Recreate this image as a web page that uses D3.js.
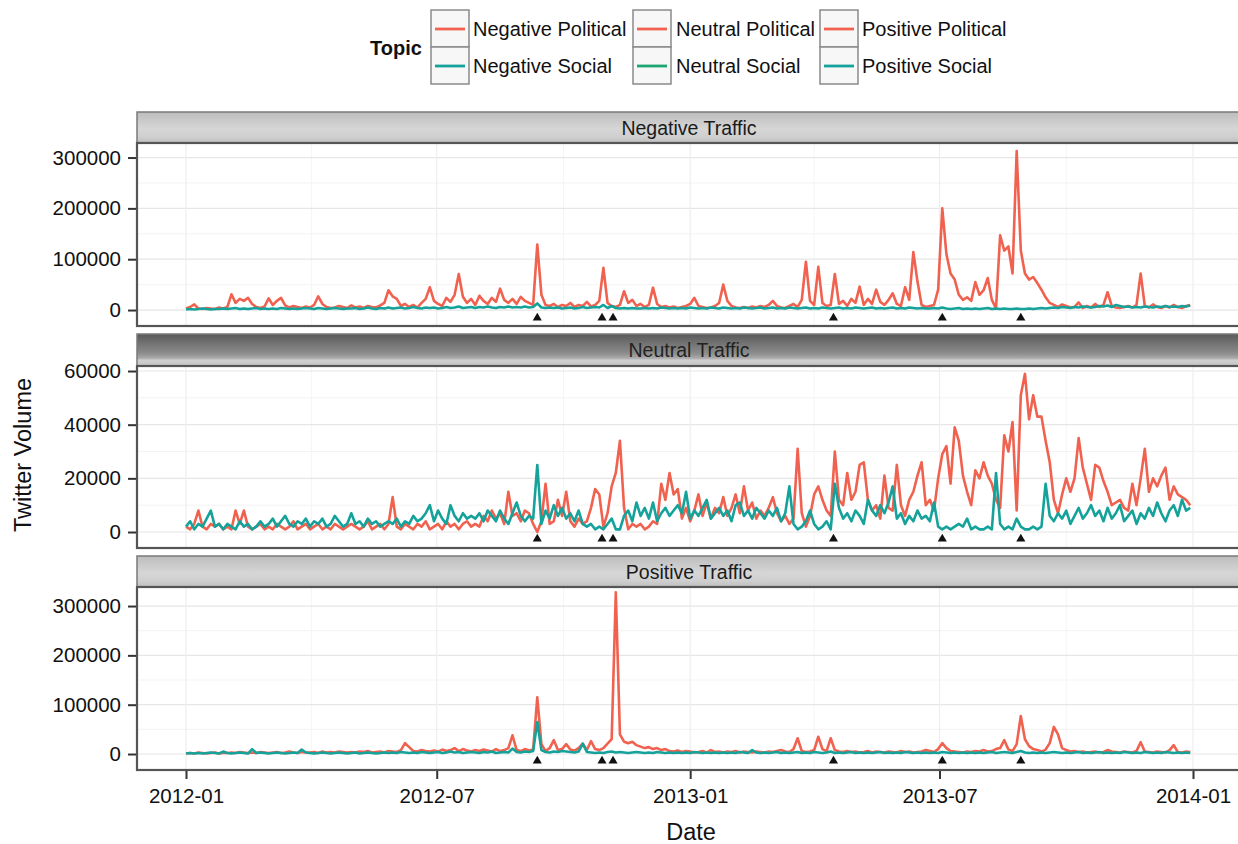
<!DOCTYPE html>
<html><head><meta charset="utf-8">
<script src="https://cdn.jsdelivr.net/npm/d3@7"></script>
<style>
body{margin:0;background:#fff}
svg{display:block}
text{font-family:"Liberation Sans",Arial,Helvetica,sans-serif}
</style>
</head><body>
<svg id="chart" width="1238" height="844"></svg>
<script>
// ---------- DATA (values in thousands of tweets, one value every 3 days from 2012-01-01) ----------
const seriesStart = "2012-01-01";
const seriesStepDays = 3;
const panelTitles = ["Negative Traffic", "Neutral Traffic", "Positive Traffic"];
const legendTopics = ["Negative Political", "Neutral Political", "Positive Political",
                      "Negative Social", "Neutral Social", "Positive Social"];
const xTickDates = ["2012-01-01", "2012-07-01", "2013-01-01", "2013-07-01", "2014-01-01"];
const xTickLabels = ["2012-01", "2012-07", "2013-01", "2013-07", "2014-01"];
const xMinorDates = ["2012-04-01", "2012-10-01", "2013-04-01", "2013-10-01"];
const eventDates = ["2012-09-12", "2012-10-29", "2012-11-06", "2013-04-15", "2013-07-03", "2013-08-29"];
const yTicksBig = [0, 100, 200, 300];
const yTickLabelsBig = ["0", "100000", "200000", "300000"];
const yTicksNeutral = [0, 20, 40, 60];
const yTickLabelsNeutral = ["0", "20000", "40000", "60000"];

const negativePolitical = [
 3,6,11,3,2,4,3,2,5,3,
 6,31,14,22,18,24,12,6,4,7,
 23,10,18,24,9,5,8,6,4,7,
 5,10,27,12,6,4,5,8,6,4,
 9,5,7,4,8,6,5,9,14,39,
 27,22,8,12,6,10,5,14,22,45,
 18,12,8,24,16,30,71,26,14,22,
 10,28,18,12,24,16,42,20,14,22,
 12,26,18,14,10,129,30,10,8,12,
 6,10,8,14,6,10,8,16,7,10,
 18,83,14,8,6,10,37,14,20,8,
 12,6,10,44,12,6,8,5,7,4,
 6,8,12,24,8,6,4,5,8,14,
 50,18,8,5,4,6,4,7,5,8,
 6,10,18,8,5,4,8,12,6,20,
 95,18,10,85,14,8,10,71,12,18,
 8,22,14,46,10,22,12,40,16,10,
 20,33,12,8,45,20,114,56,10,6,
 8,10,40,200,110,72,60,30,20,25,
 18,55,30,39,63,20,3,147,117,125,
 72,313,117,72,60,65,53,40,25,14,
 10,6,11,8,5,6,15,4,8,5,
 12,6,10,35,8,5,4,6,8,5,
 10,72,8,5,11,6,4,8,5,10,
 6,4,8,10];

const negativeSocial = [
 1,2,1,2,3,2,1,2,2,3,
 2,3,4,2,3,2,3,4,2,3,
 2,3,2,4,3,2,3,2,3,4,
 3,2,4,3,2,3,4,3,2,3,
 3,4,2,3,5,3,2,4,3,5,
 3,4,5,3,4,6,4,3,5,4,
 5,3,4,6,4,5,7,4,5,6,
 4,6,5,7,5,4,6,5,7,5,
 6,5,7,5,6,13,5,4,5,4,
 5,3,4,5,3,4,6,4,5,6,
 5,10,4,8,4,3,4,3,4,3,
 3,4,3,4,3,5,4,3,4,3,
 4,3,5,4,3,4,3,5,4,3,
 5,4,3,4,3,5,4,3,4,5,
 3,4,5,3,4,3,5,4,3,4,
 5,3,4,3,5,4,3,4,5,3,
 4,3,5,4,3,4,5,3,4,3,
 4,5,3,4,3,5,4,3,4,3,
 3,4,3,5,3,2,3,4,2,3,
 2,3,2,3,4,2,3,2,3,2,
 2,3,2,2,3,2,3,4,3,4,
 5,4,6,5,4,6,5,7,6,5,
 6,8,7,9,6,10,8,6,7,5,
 6,5,7,6,5,7,6,8,6,7,
 6,8,7,9];

const neutralPolitical = [
 2,1,3,8,2,1,3,2,3,1,
 2,1,8,3,8,2,1,2,3,1,
 2,1,3,2,1,2,4,1,2,3,
 1,2,3,1,2,1,3,2,1,2,
 3,2,1,2,4,1,2,3,1,3,
 13,2,1,3,2,1,3,2,4,1,
 2,3,1,4,2,3,1,3,4,2,
 3,2,6,4,8,5,7,3,15,6,
 7,4,8,7,3,0,4,18,3,4,
 12,6,15,4,2,5,3,4,9,16,
 14,2,7,17,22,34,9,1,3,2,
 3,1,2,4,3,18,12,22,14,16,
 5,9,4,8,14,6,11,5,9,7,
 13,6,9,14,7,17,8,11,5,8,
 6,9,13,7,4,6,3,5,31,7,
 2,6,14,17,12,8,6,30,12,10,
 22,12,15,25,26,12,8,10,5,21,
 9,8,25,10,6,12,15,21,26,10,
 12,8,20,29,32,18,39,34,21,15,
 10,23,20,26,21,18,12,9,36,30,
 41,8,51,59,42,51,43,43,34,26,
 12,7,14,20,15,20,35,24,18,12,
 25,24,19,15,10,11,12,9,8,18,
 10,20,31,15,20,17,21,24,12,17,
 14,13,12,10];

const neutralSocial = [
 2,4,1,3,2,5,8,2,3,1,
 3,2,1,4,2,3,1,2,4,2,
 3,5,2,4,6,3,2,4,3,5,
 2,4,3,5,2,3,6,4,2,3,
 7,3,4,2,5,3,4,2,3,4,
 3,5,2,4,3,6,4,5,7,10,
 4,8,5,3,10,6,4,7,5,6,
 5,7,4,8,6,4,8,5,3,7,
 11,6,4,6,5,25,3,8,5,10,
 6,9,5,7,4,8,3,2,3,1,
 2,1,3,5,1,1,6,8,4,11,
 6,9,5,11,4,7,9,6,8,10,
 7,15,5,8,6,9,12,5,7,9,
 6,8,4,10,11,6,8,5,9,7,
 5,8,6,9,4,7,17,3,1,2,
 4,8,3,1,2,4,1,18,9,5,
 7,4,8,6,3,12,8,6,10,7,
 11,17,5,7,3,6,4,8,5,6,
 4,11,2,1,2,1,2,3,2,5,
 1,2,1,1,2,1,22,3,1,2,
 1,5,2,1,1,2,1,2,18,6,
 4,7,5,8,3,6,9,5,7,10,
 6,8,4,9,5,7,10,4,6,8,
 3,7,5,9,6,11,7,4,8,10,
 6,12,8,9];

const positivePolitical = [
 1,2,1,3,2,1,2,3,1,2,
 2,3,2,4,3,2,3,2,4,3,
 2,3,4,2,3,5,3,2,4,3,
 3,4,2,5,3,4,3,5,4,3,
 4,3,5,4,6,3,4,5,3,6,
 5,4,8,22,14,6,5,8,6,5,
 7,5,9,6,8,12,6,10,7,5,
 8,6,9,7,5,10,6,8,12,38,
 8,6,10,7,9,115,20,6,12,28,
 8,10,20,9,7,12,21,8,26,10,
 8,12,21,30,328,40,25,22,25,18,
 15,12,14,10,12,8,10,6,5,7,
 4,6,5,3,4,6,3,8,4,5,
 3,5,4,6,3,5,4,3,5,4,
 3,5,4,6,8,5,4,10,32,6,
 4,5,8,35,10,6,32,8,5,4,
 6,4,5,3,4,6,3,5,4,3,
 5,4,3,6,4,5,3,4,5,8,
 6,4,10,22,12,6,5,4,3,5,
 4,6,5,8,5,6,10,12,28,9,
 6,20,77,30,16,10,8,5,9,22,
 55,40,12,8,5,6,4,5,3,4,
 5,3,4,8,5,4,3,5,4,3,
 6,24,5,4,3,5,4,3,8,18,
 4,3,5,4];

const positiveSocial = [
 1,2,1,2,1,2,3,2,1,5,
 2,1,2,3,2,1,10,2,3,2,
 1,2,3,2,1,2,3,2,9,3,
 2,1,2,3,2,1,2,3,2,1,
 2,3,1,2,3,2,1,2,3,2,
 3,2,4,3,2,3,2,4,3,2,
 3,4,2,3,5,3,4,2,3,4,
 3,2,4,3,5,2,3,4,3,11,
 4,3,5,4,6,65,8,4,3,5,
 4,6,5,4,3,5,21,4,3,2,
 3,2,4,5,3,4,3,2,3,4,
 3,2,3,2,4,3,2,3,2,3,
 2,3,2,4,3,2,3,2,3,2,
 3,2,3,2,4,3,2,8,3,2,
 3,2,3,4,2,3,2,3,4,2,
 3,2,4,3,2,3,5,2,3,2,
 3,4,2,3,2,3,2,3,4,2,
 3,2,3,2,4,3,2,3,2,3,
 2,3,2,4,3,2,3,2,3,2,
 3,2,3,2,3,4,2,3,4,3,
 2,4,6,3,2,3,2,3,2,3,
 4,3,2,3,2,3,4,2,3,2,
 3,4,2,3,2,3,2,4,3,2,
 3,2,4,3,2,3,2,4,3,2,
 3,2,3,2];

// ---------- STYLE ----------
const RED = "#F0624F", TEAL = "#15A29A", GREEN_SOCIAL = "#1BA673";
const legendColors = [RED, RED, RED, TEAL, GREEN_SOCIAL, TEAL];

const parse = d3.utcParse("%Y-%m-%d");
const start = parse(seriesStart);
const dates = d3.range(negativePolitical.length).map(i => d3.utcDay.offset(start, i * seriesStepDays));

const svg = d3.select("#chart");
const defs = svg.append("defs");

function grad(id, stops) {
  const g = defs.append("linearGradient").attr("id", id).attr("x1", 0).attr("y1", 0).attr("x2", 0).attr("y2", 1);
  stops.forEach(s => g.append("stop").attr("offset", s[0]).attr("stop-color", s[1]));
}
grad("stripLight", [["0%", "#bdbdbd"], ["55%", "#d6d6d6"], ["80%", "#cfcfcf"], ["100%", "#bebebe"]]);
grad("stripDark", [["0%", "#5a5a5a"], ["60%", "#8c8c8c"], ["75%", "#a9a9a9"], ["82%", "#d0d0d0"], ["100%", "#c4c4c4"]]);

const x = d3.scaleUtc().domain([parse("2012-01-01"), parse("2014-01-01")]).range([186, 1193]);
const panelLeft = 137, panelRight = 1243;

const panels = [
  { title: panelTitles[0], pol: negativePolitical, soc: negativeSocial, stripTop: 112, top: 143, bottom: 326,
    domain: [-31.4, 328.6], ticks: yTicksBig, labels: yTickLabelsBig, minor: [50, 150, 250], marker: -15.5, strip: "stripLight", textColor: "#1a1a1a" },
  { title: panelTitles[1], pol: neutralPolitical, soc: neutralSocial, stripTop: 334, top: 366, bottom: 548,
    domain: [-5.96, 61.87], ticks: yTicksNeutral, labels: yTickLabelsNeutral, minor: [10, 30, 50], marker: -2.6, strip: "stripDark", textColor: "#222" },
  { title: panelTitles[2], pol: positivePolitical, soc: positiveSocial, stripTop: 556, top: 587, bottom: 770,
    domain: [-32.4, 338.6], ticks: yTicksBig, labels: yTickLabelsBig, minor: [50, 150, 250], marker: -14, strip: "stripLight", textColor: "#1a1a1a" }
];

panels.forEach((p, k) => {
  const y = d3.scaleLinear().domain(p.domain).range([p.bottom, p.top]);
  const g = svg.append("g");

  // strip
  g.append("rect").attr("x", panelLeft).attr("y", p.stripTop).attr("width", panelRight - panelLeft)
    .attr("height", p.top - p.stripTop).attr("fill", `url(#${p.strip})`).attr("stroke", "#7a7a7a").attr("stroke-width", 1.5);
  g.append("text").attr("x", (panelLeft + panelRight) / 2 - 1).attr("y", (p.stripTop + p.top) / 2 + 7)
    .attr("text-anchor", "middle").attr("font-size", 19.5).attr("fill", p.textColor).text(p.title);

  // plot background
  g.append("rect").attr("x", panelLeft).attr("y", p.top).attr("width", panelRight - panelLeft)
    .attr("height", p.bottom - p.top).attr("fill", "#fff");

  // grid
  g.selectAll(".gminor").data(p.minor).join("line")
    .attr("x1", panelLeft).attr("x2", panelRight).attr("y1", d => y(d)).attr("y2", d => y(d))
    .attr("stroke", "#f3f3f3").attr("stroke-width", 1);
  g.selectAll(".gvminor").data(xMinorDates).join("line")
    .attr("x1", d => x(parse(d))).attr("x2", d => x(parse(d))).attr("y1", p.top).attr("y2", p.bottom)
    .attr("stroke", "#f5f5f5").attr("stroke-width", 1);
  g.selectAll(".gmajor").data(p.ticks).join("line")
    .attr("x1", panelLeft).attr("x2", panelRight).attr("y1", d => y(d)).attr("y2", d => y(d))
    .attr("stroke", "#e6e6e6").attr("stroke-width", 1.2);
  g.selectAll(".gvmajor").data(xTickDates).join("line")
    .attr("x1", d => x(parse(d))).attr("x2", d => x(parse(d))).attr("y1", p.top).attr("y2", p.bottom)
    .attr("stroke", "#eeeeee").attr("stroke-width", 1.2);

  // clip
  const cid = "clip" + k;
  defs.append("clipPath").attr("id", cid).append("rect")
    .attr("x", panelLeft).attr("y", p.top).attr("width", panelRight - panelLeft).attr("height", p.bottom - p.top);

  const line = d3.line().x((d, i) => x(dates[i])).y(d => y(d)).curve(d3.curveLinear);
  const lg = g.append("g").attr("clip-path", `url(#${cid})`);
  lg.append("path").datum(p.pol).attr("d", line).attr("fill", "none").attr("stroke", RED)
    .attr("stroke-width", 2.6).attr("stroke-linejoin", "round");
  lg.append("path").datum(p.soc).attr("d", line).attr("fill", "none").attr("stroke", TEAL)
    .attr("stroke-width", 2.6).attr("stroke-linejoin", "round");

  // event markers
  lg.selectAll(".ev").data(eventDates).join("path")
    .attr("d", d3.symbol(d3.symbolTriangle).size(36))
    .attr("transform", d => `translate(${x(parse(d))},${y(p.marker)})`)
    .attr("fill", "#111");

  // panel border
  g.append("rect").attr("x", panelLeft).attr("y", p.top).attr("width", panelRight - panelLeft)
    .attr("height", p.bottom - p.top).attr("fill", "none").attr("stroke", "#555").attr("stroke-width", 2.2);

  // y axis
  const yAxis = d3.axisLeft(y).tickValues(p.ticks).tickFormat((d, i) => p.labels[i]).tickSize(8).tickPadding(7);
  const ya = svg.append("g").attr("transform", `translate(${panelLeft - 1},0)`).call(yAxis);
  ya.select(".domain").remove();
  ya.selectAll(".tick line").attr("stroke", "#333").attr("stroke-width", 2);
  ya.selectAll(".tick text").attr("font-size", 20.5).attr("fill", "#111")
    .style("font-family", '"Liberation Sans",Arial,Helvetica,sans-serif');

  if (k === 2) {
    const xAxis = d3.axisBottom(x).tickValues(xTickDates.map(parse)).tickFormat((d, i) => xTickLabels[i])
      .tickSize(8).tickPadding(9);
    const xa = svg.append("g").attr("transform", `translate(0,${p.bottom + 1})`).call(xAxis);
    xa.select(".domain").remove();
    xa.selectAll(".tick line").attr("stroke", "#333").attr("stroke-width", 2);
    xa.selectAll(".tick text").attr("font-size", 20.5).attr("fill", "#111")
      .style("font-family", '"Liberation Sans",Arial,Helvetica,sans-serif');
  }
});

// axis titles
svg.append("text").attr("x", 691).attr("y", 840).attr("text-anchor", "middle").attr("font-size", 23.5)
  .attr("fill", "#111").text("Date");
svg.append("text").attr("transform", "translate(31,455) rotate(-90)").attr("text-anchor", "middle")
  .attr("font-size", 23.5).attr("fill", "#111").text("Twitter Volume");

// legend
const legend = svg.append("g");
legend.append("text").attr("x", 370).attr("y", 55).attr("font-size", 20).attr("font-weight", "bold")
  .attr("fill", "#111").text("Topic");
const colX = [431, 633, 820], textX = [473, 676, 862], rowY = [10, 47];
legendTopics.forEach((t, i) => {
  const c = i % 3, r = Math.floor(i / 3);
  const gx = colX[c], gy = rowY[r];
  legend.append("rect").attr("x", gx).attr("y", gy).attr("width", 38).attr("height", 37)
    .attr("fill", "#f7f7f7").attr("stroke", "#8a8a8a").attr("stroke-width", 1.5);
  legend.append("line").attr("x1", gx + 4).attr("x2", gx + 34).attr("y1", gy + 19).attr("y2", gy + 19)
    .attr("stroke", legendColors[i]).attr("stroke-width", 2.8);
  legend.append("text").attr("x", textX[c]).attr("y", gy + 26).attr("font-size", 20).attr("fill", "#111").text(t);
});
</script>
</body></html>
